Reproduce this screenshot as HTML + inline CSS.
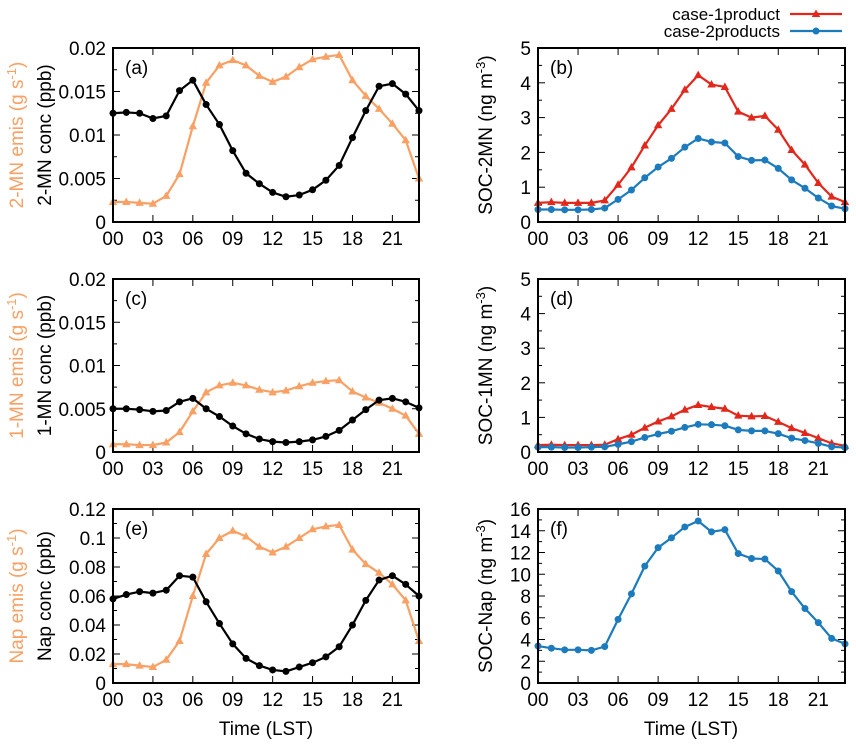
<!DOCTYPE html>
<html><head><meta charset="utf-8"><style>
html,body{margin:0;padding:0;background:#fff;}
svg{display:block;font-family:"Liberation Sans",Arial,sans-serif;}
</style></head><body>
<svg id="fig" width="856" height="747" viewBox="0 0 856 747"></svg>
<script>
const hours=[0,1,2,3,4,5,6,7,8,9,10,11,12,13,14,15,16,17,18,19,20,21,22,23];
const xTickLabels=["00","03","06","09","12","15","18","21"];
const emis2MN=[0.0023,0.0023,0.0022,0.0021,0.003,0.0055,0.011,0.016,0.018,0.0186,0.018,0.0168,0.0161,0.0167,0.0178,0.0187,0.019,0.0192,0.0163,0.0145,0.013,0.0113,0.0094,0.005];
const conc2MN=[0.0125,0.0126,0.0125,0.0119,0.0122,0.0151,0.0163,0.0135,0.0112,0.0082,0.0056,0.0044,0.0034,0.0029,0.0031,0.0037,0.0048,0.0065,0.0097,0.0128,0.0156,0.0159,0.0147,0.0128];
const emis1MN=[0.0009,0.0009,0.0008,0.0008,0.0011,0.0023,0.0047,0.0069,0.0077,0.008,0.0077,0.0072,0.0069,0.0071,0.0076,0.008,0.0082,0.0083,0.007,0.0063,0.0057,0.005,0.0042,0.0021];
const conc1MN=[0.005,0.005,0.0049,0.0047,0.0048,0.0058,0.0062,0.005,0.0041,0.003,0.0021,0.0015,0.0012,0.0011,0.0012,0.0014,0.0018,0.0025,0.0037,0.0049,0.006,0.0062,0.0058,0.0051];
const emisNap=[0.013,0.013,0.012,0.011,0.016,0.029,0.06,0.089,0.1,0.105,0.101,0.094,0.09,0.094,0.1,0.106,0.108,0.109,0.092,0.082,0.076,0.068,0.057,0.029];
const concNap=[0.058,0.061,0.063,0.062,0.064,0.074,0.073,0.056,0.041,0.027,0.017,0.012,0.009,0.008,0.011,0.014,0.018,0.025,0.04,0.057,0.071,0.074,0.068,0.06];
const soc2MN_case1=[0.55,0.57,0.55,0.55,0.55,0.62,1.07,1.57,2.2,2.78,3.25,3.8,4.22,3.95,3.88,3.17,3.0,3.05,2.65,2.07,1.65,1.12,0.73,0.57];
const soc2MN_case2=[0.36,0.36,0.35,0.35,0.36,0.4,0.65,0.92,1.27,1.58,1.83,2.15,2.4,2.3,2.27,1.88,1.77,1.78,1.54,1.21,0.97,0.69,0.46,0.38];
const soc1MN_case1=[0.2,0.21,0.2,0.2,0.2,0.21,0.37,0.5,0.7,0.88,1.03,1.22,1.36,1.3,1.25,1.05,1.03,1.04,0.87,0.69,0.55,0.4,0.25,0.18];
const soc1MN_case2=[0.14,0.14,0.13,0.13,0.14,0.15,0.22,0.3,0.42,0.52,0.6,0.71,0.8,0.79,0.76,0.64,0.61,0.61,0.53,0.4,0.33,0.25,0.15,0.13];
const socNap_case2=[3.4,3.2,3.05,3.05,3.0,3.35,5.85,8.2,10.75,12.45,13.35,14.35,14.9,13.9,14.1,11.9,11.45,11.4,10.3,8.4,6.85,5.55,4.1,3.6];
const ticksA=["0","0.005","0.01","0.015","0.02"];
const ticksE=["0","0.02","0.04","0.06","0.08","0.1","0.12"];
const ticksB=["0","1","2","3","4","5"];
const ticksF=["0","2","4","6","8","10","12","14","16"];

const NS="http://www.w3.org/2000/svg";
const svg=document.getElementById('fig');
const ORANGE="#f9a064",BLACK="#000",RED="#e2281c",BLUE="#1c7bbd";
const FS=19;
function mk(tag,attrs,parent,txt){const e=document.createElementNS(NS,tag);for(const k in attrs)e.setAttribute(k,attrs[k]);if(txt!==undefined)e.textContent=txt;(parent||svg).appendChild(e);return e;}

function panel(p){
  const g=mk('g',{});
  
  
  const {x0,x1,y0,y1,ymax}=p;
  const xs=h=>x0+(x1-x0)*h/23;
  const ys=v=>y1-(y1-y0)*v/ymax;
  const n=p.ticks.length-1;
  for(let i=0;i<=n;i++){
    const v=parseFloat(p.ticks[i]);const y=ys(v);
    mk('line',{x1:x0,x2:x0+7,y1:y,y2:y,stroke:'#000','stroke-width':1},g);
    mk('line',{x1:x1,x2:x1-7,y1:y,y2:y,stroke:'#000','stroke-width':1},g);
    const t=mk('text',{x:x0-7,y:y+7,'text-anchor':'end','font-size':FS},g,p.ticks[i]);
    
    
    if(i<n){const step=parseFloat(p.ticks[1]);
      for(let m=1;m<p.minor;m++){const ym=ys(v+step*m/p.minor);
        mk('line',{x1:x0,x2:x0+4,y1:ym,y2:ym,stroke:'#000'},g);
        mk('line',{x1:x1,x2:x1-4,y1:ym,y2:ym,stroke:'#000'},g);}}
  }
  xTickLabels.forEach(l=>{const x=xs(parseInt(l,10));
    mk('line',{x1:x,x2:x,y1:y1,y2:y1-7,stroke:'#000'},g);
    mk('line',{x1:x,x2:x,y1:y0,y2:y0+7,stroke:'#000'},g);
    const t=mk('text',{x:x,y:y1+23,'text-anchor':'middle','font-size':FS},g,l);
    
    
  });
  p.series.forEach(s=>{
    const sg=mk('g',{},g);
    
    
    mk('polyline',{points:s.data.map((v,i)=>xs(hours[i])+','+ys(v)).join(' '),fill:'none',stroke:s.color,'stroke-width':2.2,'stroke-linejoin':'round'},sg);
    s.data.forEach((v,i)=>{const x=xs(hours[i]),y=ys(v);
      if(s.marker==='tri') mk('polygon',{points:`${x},${y-4.5} ${x-4.2},${y+3} ${x+4.2},${y+3}`,fill:s.color},sg);
      else mk('circle',{cx:x,cy:y,r:3.5,fill:s.color},sg);
    });
  });
  mk('rect',{x:x0,y:y0,width:x1-x0,height:y1-y0,fill:'none',stroke:'#000','stroke-width':2},g);
  const lb=mk('text',{x:x0+12,y:y0+26,'font-size':FS},g,p.label);
  
  
  const cy=(y0+y1)/2;
  p.ylabels.forEach(yl=>{
    const t=mk('text',{x:yl.x,y:cy,'text-anchor':'middle','font-size':FS,fill:yl.color,transform:`rotate(-90 ${yl.x} ${cy})`},g);
    
    
    mk('tspan',{},t,yl.a);
    mk('tspan',{dy:-7,'font-size':13},t,yl.sup);
    mk('tspan',{dy:7},t,')');
  });
}
const L={x0:113,x1:419},R={x0:538,x1:845};
const rows=[{y0:48,y1:222},{y0:279,y1:452},{y0:509,y1:683}];
panel({name:'panel-a',label:'(a)',...L,...rows[0],ymax:0.02,ticks:ticksA,minor:2,
  series:[{name:'series-2mn-emis',data:emis2MN,color:ORANGE,marker:'tri'},{name:'series-2mn-conc',data:conc2MN,color:BLACK,marker:'dot'}],
  ylabels:[{x:23,color:ORANGE,a:'2-MN emis (g s',sup:'-1'}]});
panel({name:'panel-c',label:'(c)',...L,...rows[1],ymax:0.02,ticks:ticksA,minor:2,
  series:[{name:'series-1mn-emis',data:emis1MN,color:ORANGE,marker:'tri'},{name:'series-1mn-conc',data:conc1MN,color:BLACK,marker:'dot'}],
  ylabels:[{x:23,color:ORANGE,a:'1-MN emis (g s',sup:'-1'}]});
panel({name:'panel-e',label:'(e)',...L,...rows[2],ymax:0.12,ticks:ticksE,minor:2,
  series:[{name:'series-nap-emis',data:emisNap,color:ORANGE,marker:'tri'},{name:'series-nap-conc',data:concNap,color:BLACK,marker:'dot'}],
  ylabels:[{x:23,color:ORANGE,a:'Nap emis (g s',sup:'-1'}]});
panel({name:'panel-b',label:'(b)',...R,...rows[0],ymax:5,ticks:ticksB,minor:2,
  series:[{name:'series-case1',data:soc2MN_case1,color:RED,marker:'tri'},{name:'series-case2',data:soc2MN_case2,color:BLUE,marker:'dot'}],
  ylabels:[{x:492,color:'#000',a:'SOC-2MN (ng m',sup:'-3'}]});
panel({name:'panel-d',label:'(d)',...R,...rows[1],ymax:5,ticks:ticksB,minor:2,
  series:[{name:'series-case1',data:soc1MN_case1,color:RED,marker:'tri'},{name:'series-case2',data:soc1MN_case2,color:BLUE,marker:'dot'}],
  ylabels:[{x:492,color:'#000',a:'SOC-1MN (ng m',sup:'-3'}]});
panel({name:'panel-f',label:'(f)',...R,...rows[2],ymax:16,ticks:ticksF,minor:2,
  series:[{name:'series-case2',data:socNap_case2,color:BLUE,marker:'dot'}],
  ylabels:[{x:492,color:'#000',a:'SOC-Nap (ng m',sup:'-3'}]});
[["2-MN conc (ppb)",rows[0]],["1-MN conc (ppb)",rows[1]],["Nap conc (ppb)",rows[2]]].forEach(([s,r])=>{
  const cy=(r.y0+r.y1)/2;
  const t=mk('text',{x:51,y:cy,'text-anchor':'middle','font-size':FS,transform:`rotate(-90 51 ${cy})`},svg,s);
  
  
});
[[266],[691]].forEach(([x])=>{
  const t=mk('text',{x:x,y:735,'text-anchor':'middle','font-size':FS},svg,'Time (LST)');
  
  
});
const lg=mk('g',{});


[["case-1product",RED,'tri',14],["case-2products",BLUE,'dot',31]].forEach(([s,c,m,y])=>{
  const e=mk('g',{},lg);
  
  
  mk('text',{x:780,y:y+6,'text-anchor':'end','font-size':17},e,s);
  mk('line',{x1:790,x2:842,y1:y,y2:y,stroke:c,'stroke-width':2.2},e);
  if(m==='tri') mk('polygon',{points:`816,${y-4.5} 811.8,${y+3} 820.2,${y+3}`,fill:c},e);
  else mk('circle',{cx:816,cy:y,r:3.5,fill:c},e);
});
</script>
</body></html>
